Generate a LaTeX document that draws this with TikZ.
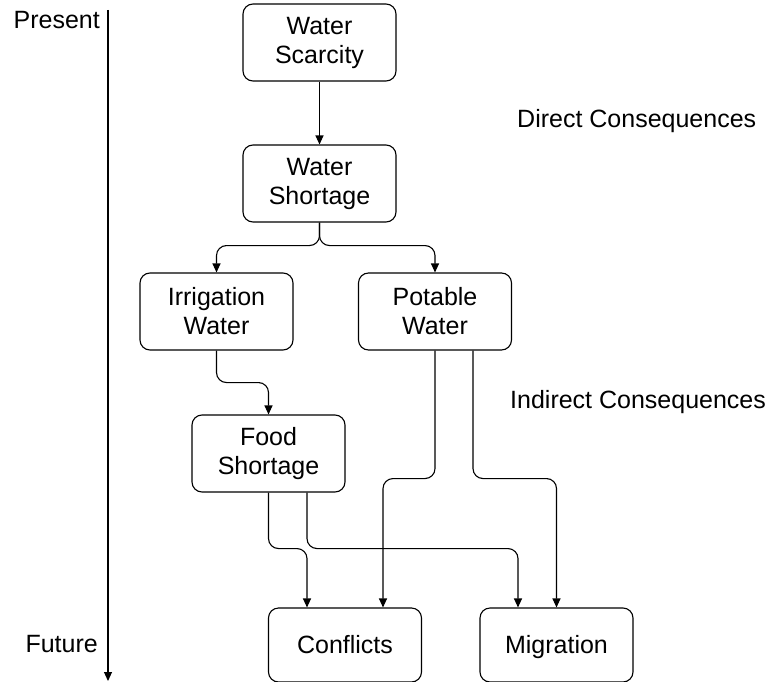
\documentclass[tikz,border=0pt]{standalone}
\usepackage{fontspec}
\setmainfont{Liberation Sans}
\usetikzlibrary{arrows.meta}
\tikzset{
  box/.style={draw, rounded corners=10pt, minimum width=153pt, minimum height=77pt, align=center, inner sep=0pt, line width=1.1pt},
  lowbox/.style={box, minimum height=74pt, text height=17.9pt, text depth=0pt},
  lbl/.style={inner sep=0pt},
  conn/.style={line width=1.1pt, rounded corners=10pt, -{Triangle[length=9pt,width=8pt]}},
}
\begin{document}
\begin{tikzpicture}[x=1pt,y=-1pt, every node/.style={font=\fontsize{25}{29}\selectfont}]
\useasboundingbox (0,0) rectangle (773,682);
% timeline
\coordinate (tl1) at (108,10);
\coordinate (tl2) at (108,681);
\draw[conn] (tl1) -- (tl2);
\node[lbl, anchor=base east] (present) at (100,29) {Present};
\node[lbl, anchor=base east] (future) at (98,652) {Future};
% side labels
\node[lbl, anchor=base west] (direct) at (517,128) {Direct Consequences};
\node[lbl, anchor=base west] (indirect) at (510,408) {Indirect Consequences};
% nodes
\node[box] (ws) at (319.5,42.5) {Water\\Scarcity};
\node[box] (wsh) at (319.5,183.5) {Water\\Shortage};
\node[box] (irr) at (216.5,311.5) {Irrigation\\Water};
\node[box] (pot) at (435,311.5) {Potable\\Water};
\node[box] (food) at (268.5,453.5) {Food\\Shortage};
\node[lowbox] (conf) at (345,645) {Conflicts};
\node[lowbox] (mig) at (556.5,645) {Migration};
% connectors
\draw[conn] (ws.south) -- (wsh.north);
\draw[conn] (wsh.south) -- ++(0,23) -| (irr.north);
\draw[conn] (wsh.south) -- ++(0,23) -| (pot.north);
\draw[conn] (irr.south) -- ++(0,32) -| (food.north);
\draw[conn] (pot.south) -- ++(0,128) -| ([xshift=38pt]conf.north);
\draw[conn] ([xshift=38pt]pot.south) -- ++(0,128) -| (mig.north);
\draw[conn] (food.south) -- ++(0,56) -| ([xshift=-38pt]conf.north);
\draw[conn] ([xshift=38.5pt]food.south) -- ++(0,56) -| ([xshift=-38.5pt]mig.north);
\end{tikzpicture}
\end{document}
